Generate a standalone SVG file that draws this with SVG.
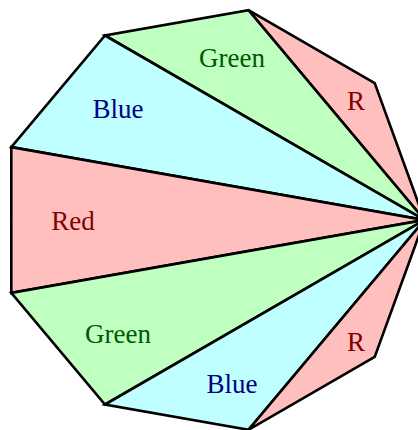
<svg xmlns="http://www.w3.org/2000/svg" width="418" height="430" viewBox="0 0 418 430">
<style>
.tri{stroke:#000;stroke-width:2.6;stroke-linejoin:miter}
.r{fill:#ffbfbf}.g{fill:#bfffbf}.b{fill:#bfffff}
text{font-family:"Liberation Serif","DejaVu Serif",serif;font-size:27px;text-anchor:middle}
.tr{fill:#800000}.tg{fill:#005a00}.tb{fill:#000080}
</style>
<rect width="418" height="430" fill="#fff"/>
<g id="tri-r1"><polygon class="tri r" points="424.5,220 374.7,83.1 248.5,10.2"/><text class="tr" x="356" y="109.5">R</text></g>
<g id="tri-g1"><polygon class="tri g" points="424.5,220 248.5,10.2 105,35.5"/><text class="tg" x="232" y="67">Green</text></g>
<g id="tri-b1"><polygon class="tri b" points="424.5,220 105,35.5 11.3,147.1"/><text class="tb" x="118" y="117.5">Blue</text></g>
<g id="tri-red"><polygon class="tri r" points="424.5,220 11.3,147.1 11.3,292.9"/><text class="tr" x="73" y="229.5">Red</text></g>
<g id="tri-g2"><polygon class="tri g" points="424.5,220 11.3,292.9 105,404.5"/><text class="tg" x="118" y="342.5">Green</text></g>
<g id="tri-b2"><polygon class="tri b" points="424.5,220 105,404.5 248.5,429.8"/><text class="tb" x="232" y="392.5">Blue</text></g>
<g id="tri-r2"><polygon class="tri r" points="424.5,220 248.5,429.8 374.7,356.9"/><text class="tr" x="356" y="351">R</text></g>
<g id="connectors"></g>
</svg>
